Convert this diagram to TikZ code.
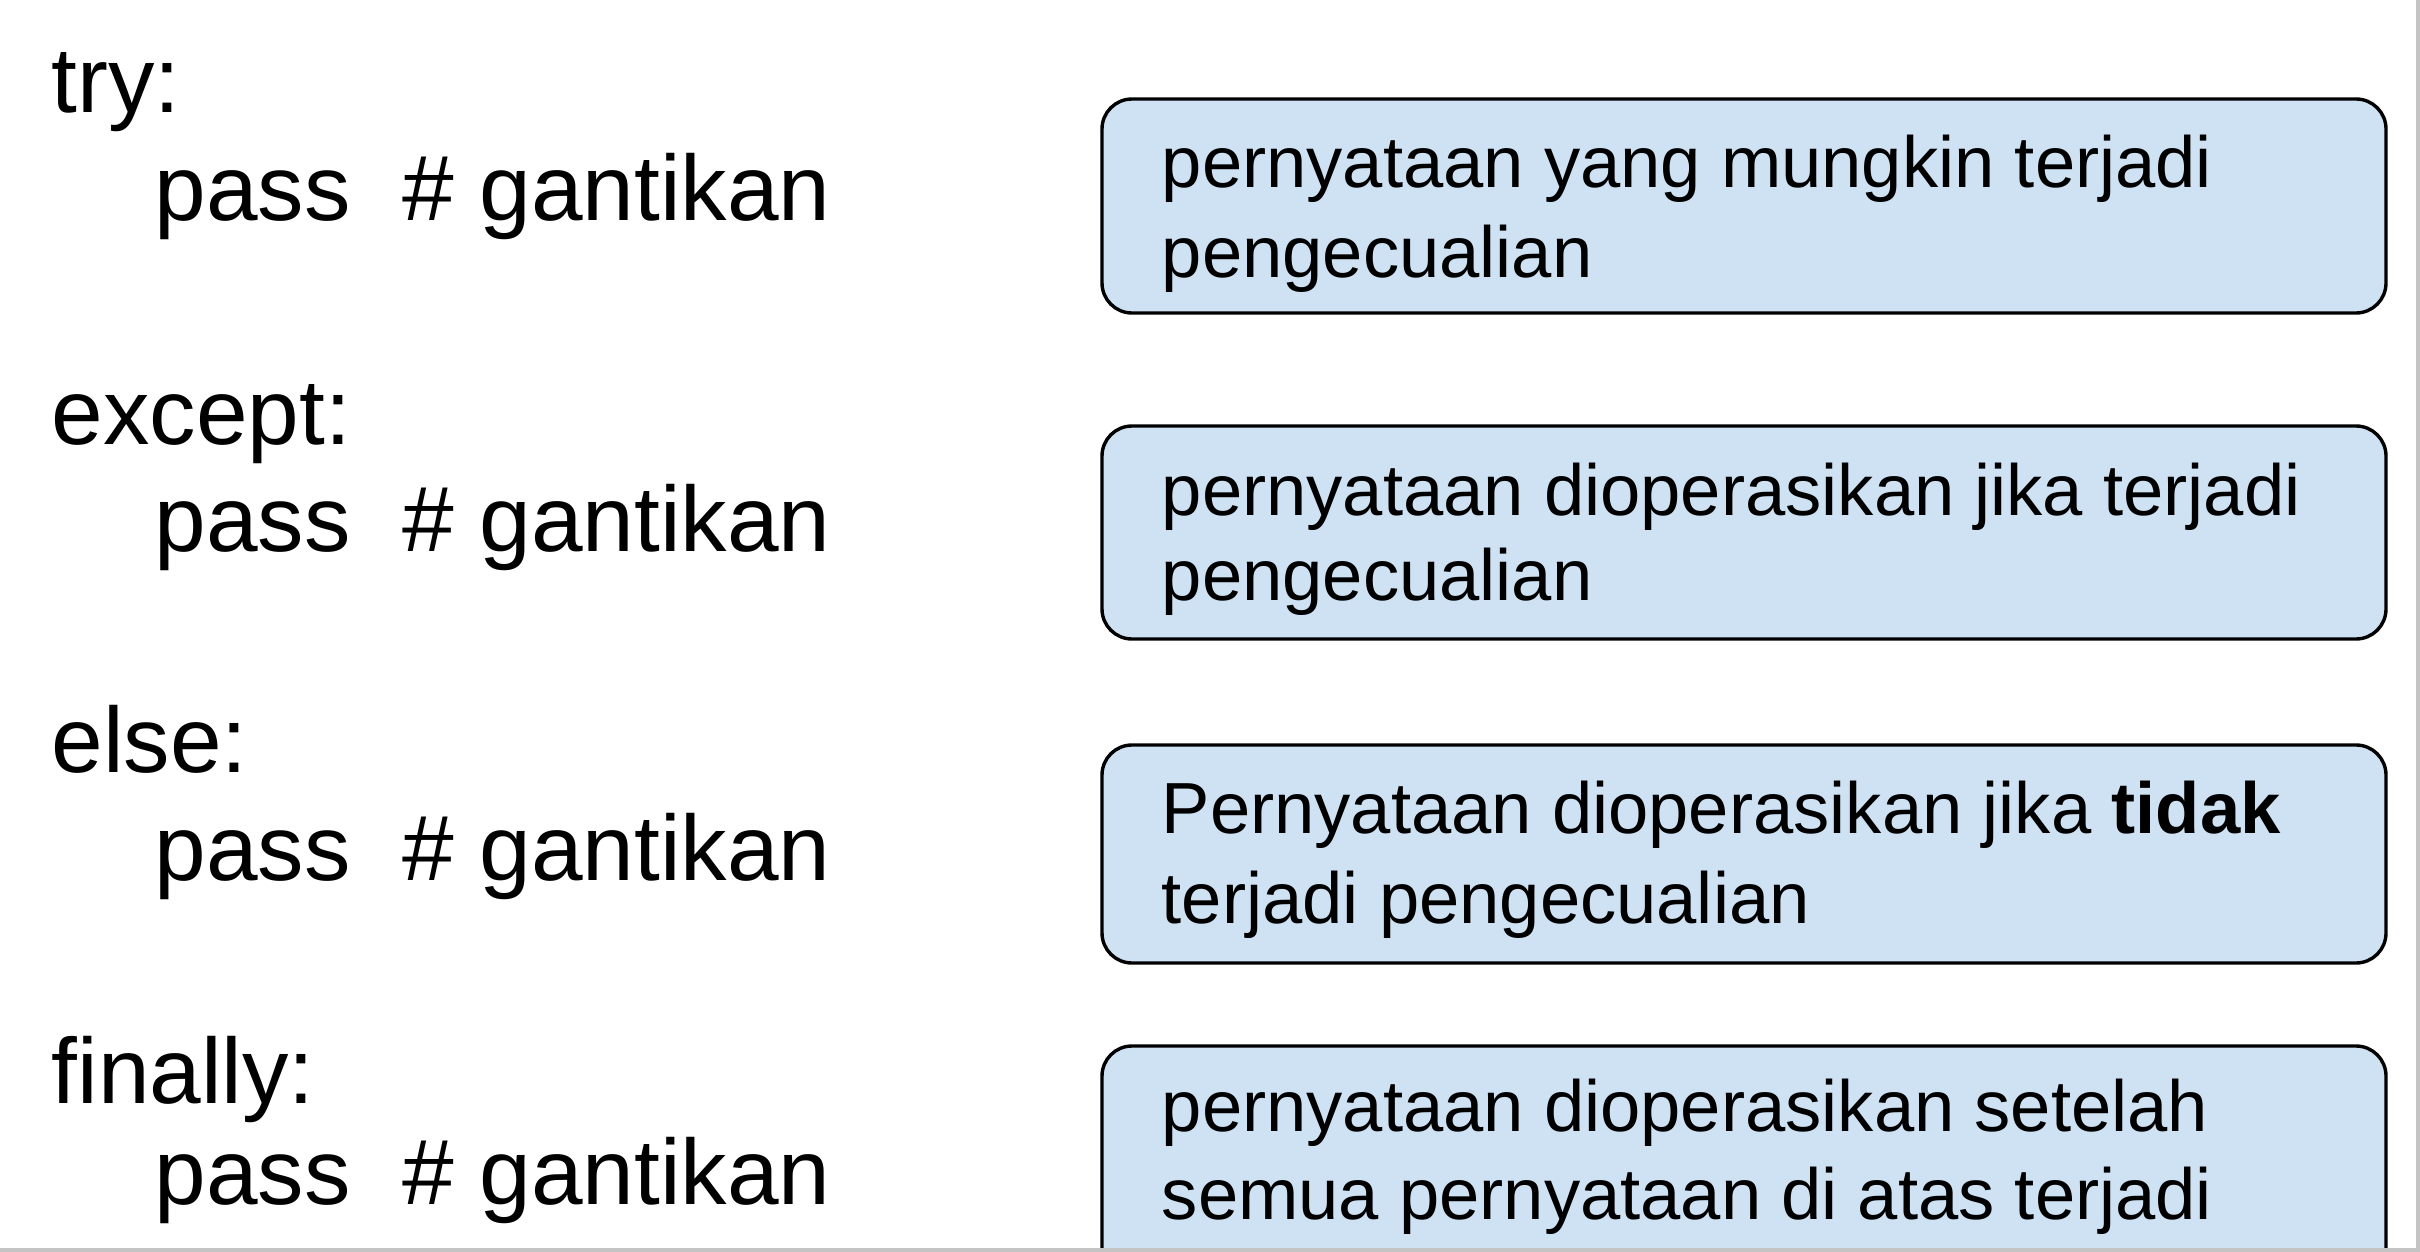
\documentclass[tikz,border=0pt]{standalone}
\usepackage{fontspec}
\setmainfont{Liberation Sans}
\definecolor{boxfill}{HTML}{CFE2F3}
\definecolor{edgegray}{HTML}{C4C4C4}
\tikzset{
  codetext/.style={anchor=base west, inner sep=0pt, font=\fontsize{23.2}{28}\selectfont},
  boxtext/.style={anchor=base west, inner sep=0pt, font=\fontsize{18.1}{22}\selectfont},
  notebox/.style={draw=black, fill=boxfill, line width=0.85pt, rounded corners=7.5pt},
}
\begin{document}
\begin{tikzpicture}[x=0.25pt,y=-0.25pt]
\useasboundingbox (0,0) rectangle (2420,1252);
\fill[white] (0,0) rectangle (2420,1252);
\begin{scope}
\clip (0,0) rectangle (2415,1247);
% boxes
\draw[notebox] (1102,99) rectangle (2386,313);
\draw[notebox] (1102,426) rectangle (2386,639);
\draw[notebox] (1102,745) rectangle (2386,963);
\draw[notebox] (1102,1046) rectangle (2386,1320);
\end{scope}
% frame edges
\draw[edgegray, line width=1pt] (2418,0) -- (2418,1250) -- (0,1250);
% code
\node[codetext] (try) at (51,113) {try:};
\node[codetext] (p1) at (154,221) {pass\ \ \# gantikan};
\node[codetext] (exc) at (51,444) {except:};
\node[codetext] (p2) at (154,551) {pass\ \ \# gantikan};
\node[codetext] (els) at (51,772) {else:};
\node[codetext] (p3) at (154,880) {pass\ \ \# gantikan};
\node[codetext] (fin) at (51,1103) {finally:};
\node[codetext] (p4) at (154,1204) {pass\ \ \# gantikan};
% box texts
\node[boxtext] (b1a) at (1161,188) {pernyataan yang mungkin terjadi};
\node[boxtext] (b1b) at (1161,278) {pengecualian};
\node[boxtext] (b2a) at (1161,515) {pernyataan dioperasikan jika terjadi};
\node[boxtext] (b2b) at (1161,600) {pengecualian};
\node[boxtext] (b3a) at (1161,833) {Pernyataan dioperasikan jika \textbf{tidak}};
\node[boxtext] (b3b) at (1161,923) {terjadi pengecualian};
\node[boxtext] (b4a) at (1161,1131) {pernyataan dioperasikan setelah};
\node[boxtext] (b4b) at (1161,1219) {semua pernyataan di atas terjadi};
\end{tikzpicture}
\end{document}
